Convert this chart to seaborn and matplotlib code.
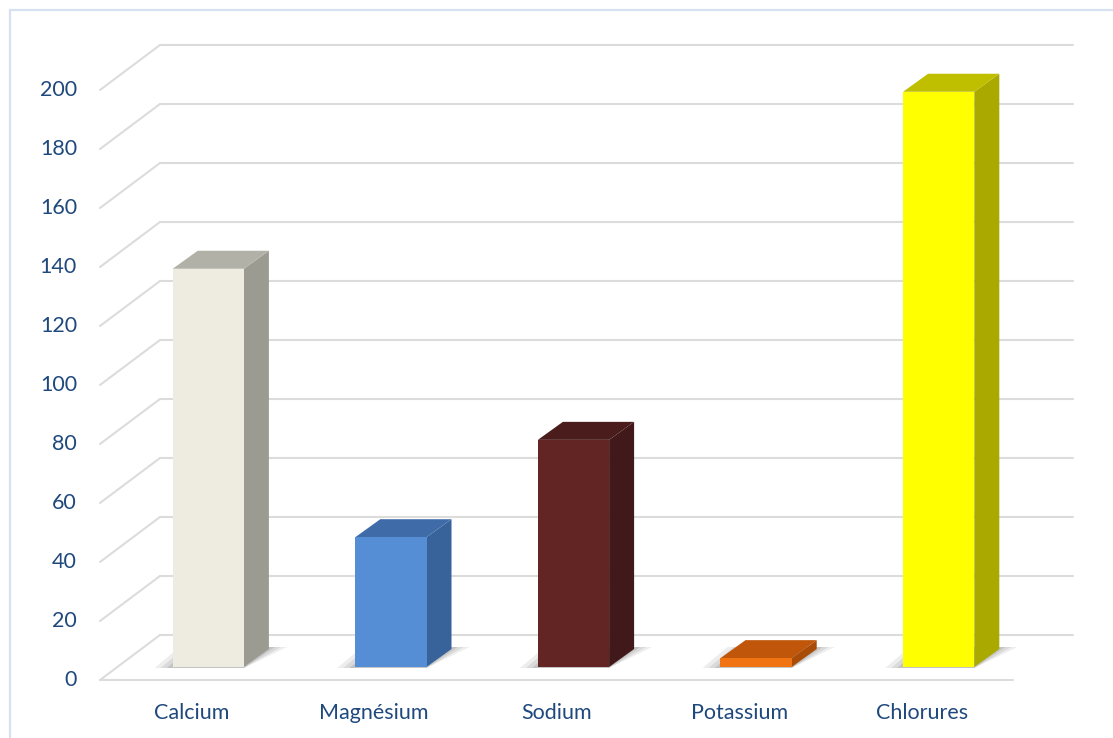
import matplotlib
matplotlib.use("Agg")
import matplotlib.pyplot as plt
from matplotlib.patches import Polygon, Rectangle
import seaborn as sns
import numpy as np

# Ion concentrations
categories = ["Calcium", "Magnésium", "Sodium", "Potassium", "Chlorures"]
values = [135, 44, 77, 3, 195]
y_ticks = list(range(0, 201, 20))

# Face colours: front, top, side
front_colors = ["#EEECE1", "#558ED5", "#632523", "#F07412", "#FFFF00"]
top_colors = ["#B2B1A7", "#3F6CA8", "#4A1C1B", "#BF560A", "#BFBF00"]
side_colors = ["#9C9B91", "#38629A", "#42191A", "#A84C08", "#A9A900"]

TEXT = "#1F497D"
GRID = "#DCDCDC"

sns.set_theme(style="white")
plt.rcParams["font.family"] = ["Lato", "DejaVu Sans"]

W, H = 1113, 738
fig = plt.figure(figsize=(W / 100, H / 100), dpi=100)
fig.patch.set_facecolor("white")

# chart border
fig.patches.append(Rectangle((10 / W, -0.01), 1.02 - 10 / W, 1 - 10 / H + 0.01,
                             transform=fig.transFigure, fill=False,
                             edgecolor="#D6E0F0", linewidth=1.6))

ax = fig.add_axes([117 / W, (H - 667) / H, 913 / W, 619.5 / H])
ax.set_xlim(-0.5, 4.5)
ax.set_ylim(0, 210)
ax.axis("off")

# pixel offsets for the depth planes
BAR_D = (25, 18)
BACK = (43, 32)
FRONT = (-17, -13)


def shifted(x, y, dx, dy):
    px, py = ax.transData.transform((x, y))
    return ax.transData.inverted().transform((px + dx, py + dy))


# walls: back gridlines, side wall diagonals, front floor edge
for v in y_ticks:
    a = shifted(-0.5, v, *BACK)
    b = shifted(4.5, v, *BACK)
    ax.plot([a[0], b[0]], [a[1], b[1]], color=GRID, lw=1.5, zorder=0,
            clip_on=False, solid_capstyle="round")
    c = shifted(-0.5, v, *FRONT)
    ax.plot([c[0], a[0]], [c[1], a[1]], color=GRID, lw=1.5, zorder=0,
            clip_on=False, solid_capstyle="round")
    t = shifted(-0.5, v, FRONT[0] - 23, FRONT[1])
    ax.text(t[0], t[1], str(v), ha="right", va="center", fontsize=15.5,
            color=TEXT, clip_on=False)

f0 = shifted(-0.5, 0, *FRONT)
f1 = shifted(4.5, 0, *FRONT)
ax.plot([f0[0], f1[0]], [f0[1], f1[1]], color=GRID, lw=1.5, zorder=0, clip_on=False)

# front faces
sns.barplot(x=categories, y=values, hue=categories, palette=front_colors,
            saturation=1, width=0.39, legend=False, ax=ax, zorder=3,
            edgecolor="none")
ax.set_xlim(-0.5, 4.5)
ax.set_ylim(0, 210)
ax.axis("off")

for i, p in enumerate(ax.patches):
    x0 = p.get_x()
    x1 = x0 + p.get_width()
    h = p.get_height()
    p.set_clip_on(False)

    # soft floor shadow
    for k, a in enumerate([0.12, 0.15, 0.2]):
        g = 18 - 6 * k
        pts = [shifted(x0, 0, -g, -1), shifted(x1, 0, 0, -1),
               shifted(x1, 0, BAR_D[0] + g, BAR_D[1] + 2),
               shifted(x0, 0, BAR_D[0] - g, BAR_D[1] + 2)]
        ax.add_patch(Polygon(pts, closed=True, facecolor="#707070", alpha=a,
                             edgecolor="none", zorder=1, clip_on=False))

    side = [shifted(x1, 0, 0, 0), shifted(x1, 0, *BAR_D),
            shifted(x1, h, *BAR_D), shifted(x1, h, 0, 0)]
    ax.add_patch(Polygon(side, closed=True, facecolor=side_colors[i],
                         edgecolor="none", zorder=2, clip_on=False))
    top = [shifted(x0, h, 0, 0), shifted(x1, h, 0, 0),
           shifted(x1, h, *BAR_D), shifted(x0, h, *BAR_D)]
    ax.add_patch(Polygon(top, closed=True, facecolor=top_colors[i],
                         edgecolor="none", zorder=2, clip_on=False))

# category labels
for i, name in enumerate(categories):
    t = shifted(i, 0, FRONT[0], FRONT[1] - 33)
    ax.text(t[0], t[1], name, ha="center", va="center", fontsize=15.5,
            color=TEXT, clip_on=False)

fig.savefig("out.png", dpi=100, facecolor="white")
